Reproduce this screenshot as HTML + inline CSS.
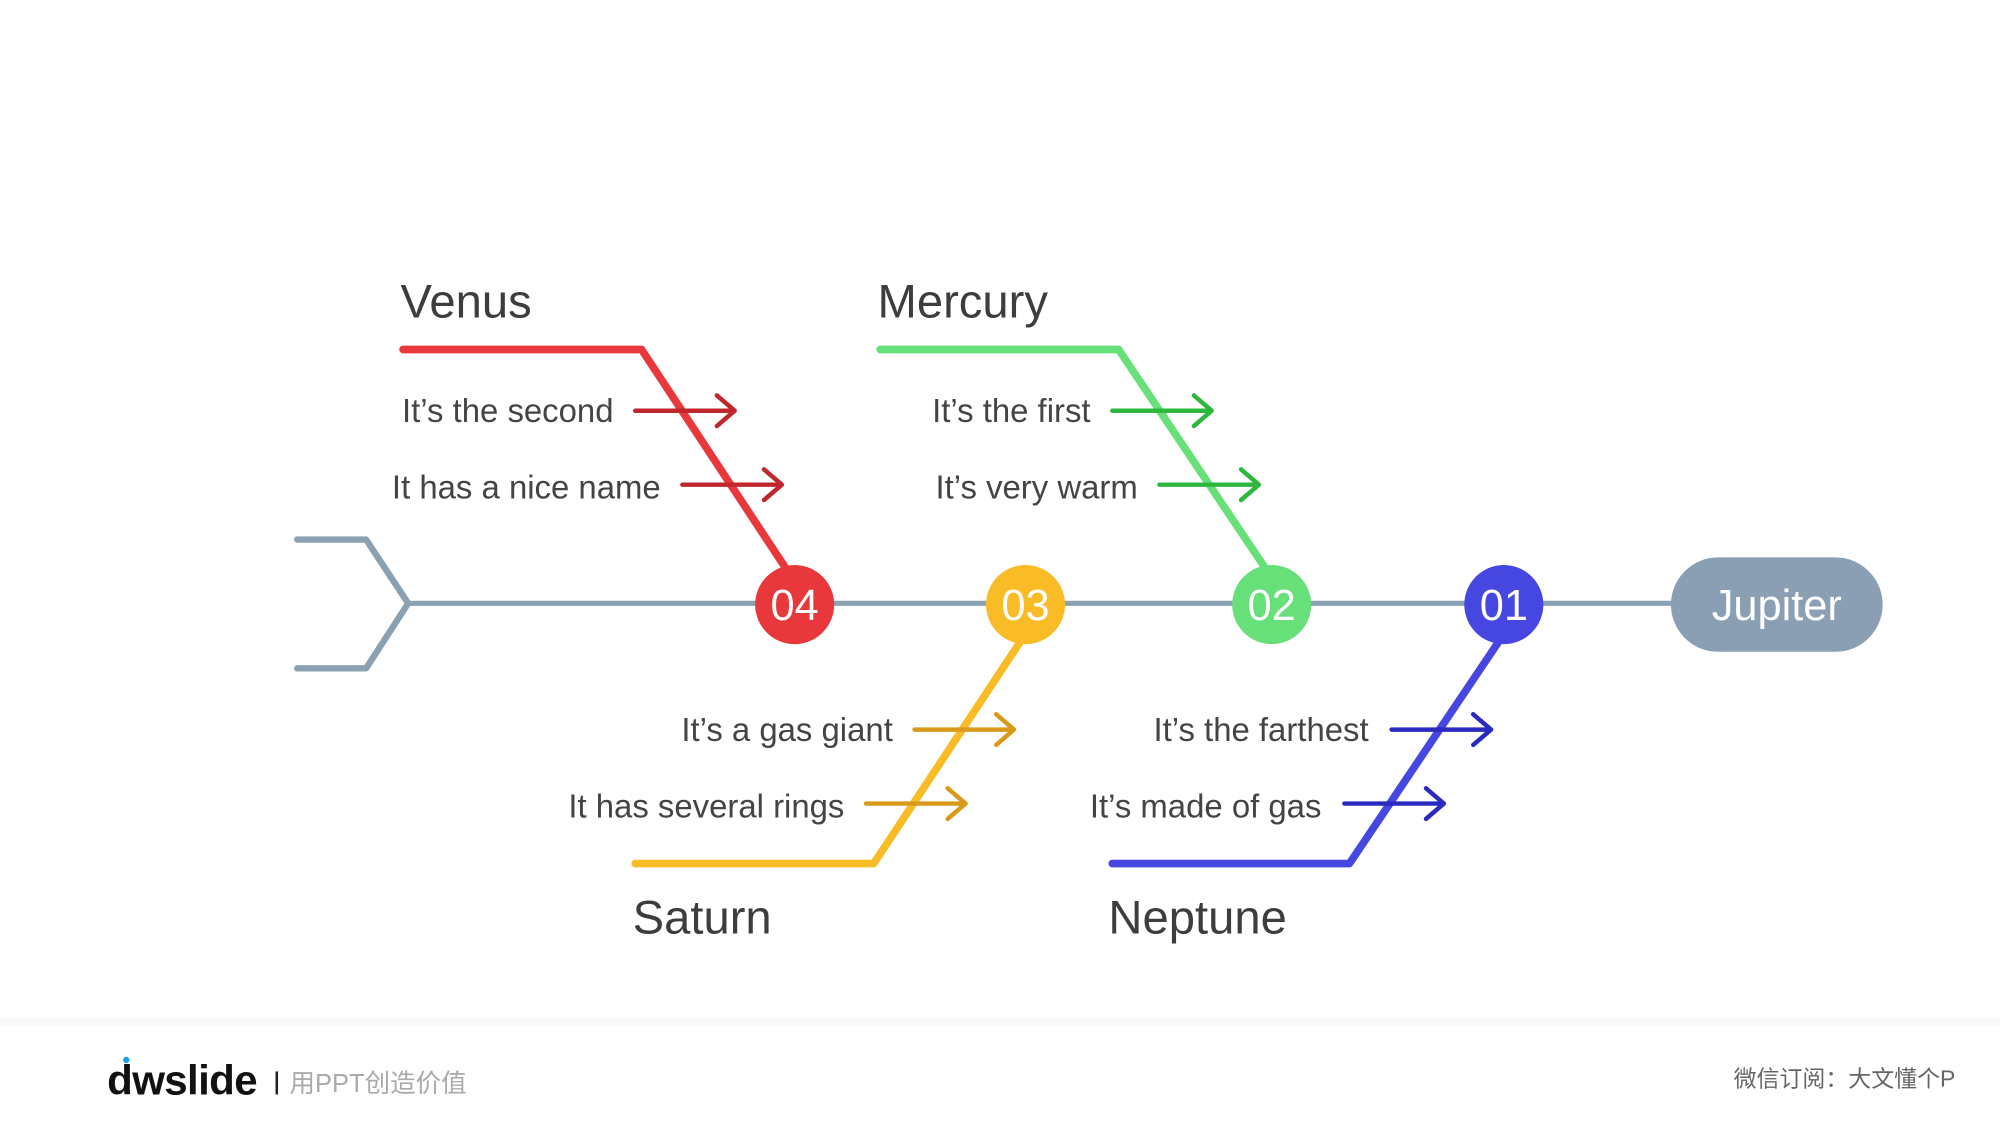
<!DOCTYPE html>
<html><head><meta charset="utf-8">
<style>
html,body{margin:0;padding:0;background:#fff;}
svg{display:block;}
text{font-family:"Liberation Sans","Noto Sans CJK SC",sans-serif;}
</style></head>
<body>
<svg width="2000" height="1125" viewBox="0 0 1568 882" xmlns="http://www.w3.org/2000/svg">
<rect x="0" y="0" width="1568" height="882" fill="#fff"/>
<rect x="0" y="798" width="1568" height="6" fill="#f9f9f9"/>
<!-- spine -->
<polyline points="233,423 287,423 320,473 287,524 233,524" fill="none" stroke="#8aa0b3" stroke-width="5" stroke-linecap="round" stroke-linejoin="round"/>
<line x1="320" y1="473" x2="1330" y2="473" stroke="#8aa0b3" stroke-width="4"/>
<rect x="1310" y="437" width="166" height="74" rx="37" fill="#8a9fb3"/>
<text x="1393" y="486" font-size="34" fill="#fff" text-anchor="middle">Jupiter</text>

<!-- bones -->
<polyline points="316,274 503,274 617,447" fill="none" stroke="#e8383b" stroke-width="6" stroke-linecap="round" stroke-linejoin="round"/>
<polyline points="690,274 877,274 993,447" fill="none" stroke="#68e07a" stroke-width="6" stroke-linecap="round" stroke-linejoin="round"/>
<polyline points="498,677 685,677 800,503" fill="none" stroke="#f9bc26" stroke-width="6" stroke-linecap="round" stroke-linejoin="round"/>
<polyline points="872,677 1058,677 1175,503" fill="none" stroke="#4646e0" stroke-width="6" stroke-linecap="round" stroke-linejoin="round"/>

<!-- arrows -->
<g fill="none" stroke-width="3.5" stroke-linecap="round" stroke-linejoin="round">
<g stroke="#c0272d"><path d="M498 322H576M562 310L576 322L562 334"/><path d="M535 380H613M599 368L613 380L599 392"/></g>
<g stroke="#2db83d"><path d="M872 322H950M936 310L950 322L936 334"/><path d="M909 380H987M973 368L987 380L973 392"/></g>
<g stroke="#d99a1a"><path d="M717 572H795M781 560L795 572L781 584"/><path d="M679 630H757M743 618L757 630L743 642"/></g>
<g stroke="#2a2ac0"><path d="M1091 572H1169M1155 560L1169 572L1155 584"/><path d="M1054 630H1132M1118 618L1132 630L1118 642"/></g>
</g>

<!-- circles -->
<circle cx="623" cy="474" r="31" fill="#e8383b"/>
<circle cx="804" cy="474" r="31" fill="#f9bc26"/>
<circle cx="997" cy="474" r="31" fill="#68e07a"/>
<circle cx="1179" cy="474" r="31" fill="#4646e0"/>
<g font-size="34" fill="#fff" text-anchor="middle">
<text x="623" y="486">04</text><text x="804" y="486">03</text><text x="997" y="486">02</text><text x="1179" y="486">01</text>
</g>

<!-- titles -->
<g font-size="37" fill="#3d3d3d">
<text x="314" y="249">Venus</text>
<text x="688" y="249">Mercury</text>
<text x="496" y="732">Saturn</text>
<text x="869" y="732">Neptune</text>
</g>
<g font-size="25.8" fill="#444" text-anchor="end">
<text x="481" y="331">It’s the second</text>
<text x="518" y="391">It has a nice name</text>
<text x="855" y="331">It’s the first</text>
<text x="892" y="391">It’s very warm</text>
<text x="700" y="581">It’s a gas giant</text>
<text x="662" y="641">It has several rings</text>
<text x="1073" y="581">It’s the farthest</text>
<text x="1036" y="641">It’s made of gas</text>
</g>

<!-- footer -->
<text x="84" y="858" font-size="33" font-weight="bold" fill="#111" letter-spacing="-0.5">dwslide</text>
<circle cx="99" cy="831" r="2.5" fill="#1aa3e8"/>
<rect x="216" y="840" width="2" height="18" fill="#222"/>
<text x="227" y="856" font-size="20" fill="#aaa">用PPT创造价值</text>
<text x="1533" y="852" font-size="18" fill="#666" text-anchor="end">微信订阅：大文懂个P</text>
</svg>
</body></html>
